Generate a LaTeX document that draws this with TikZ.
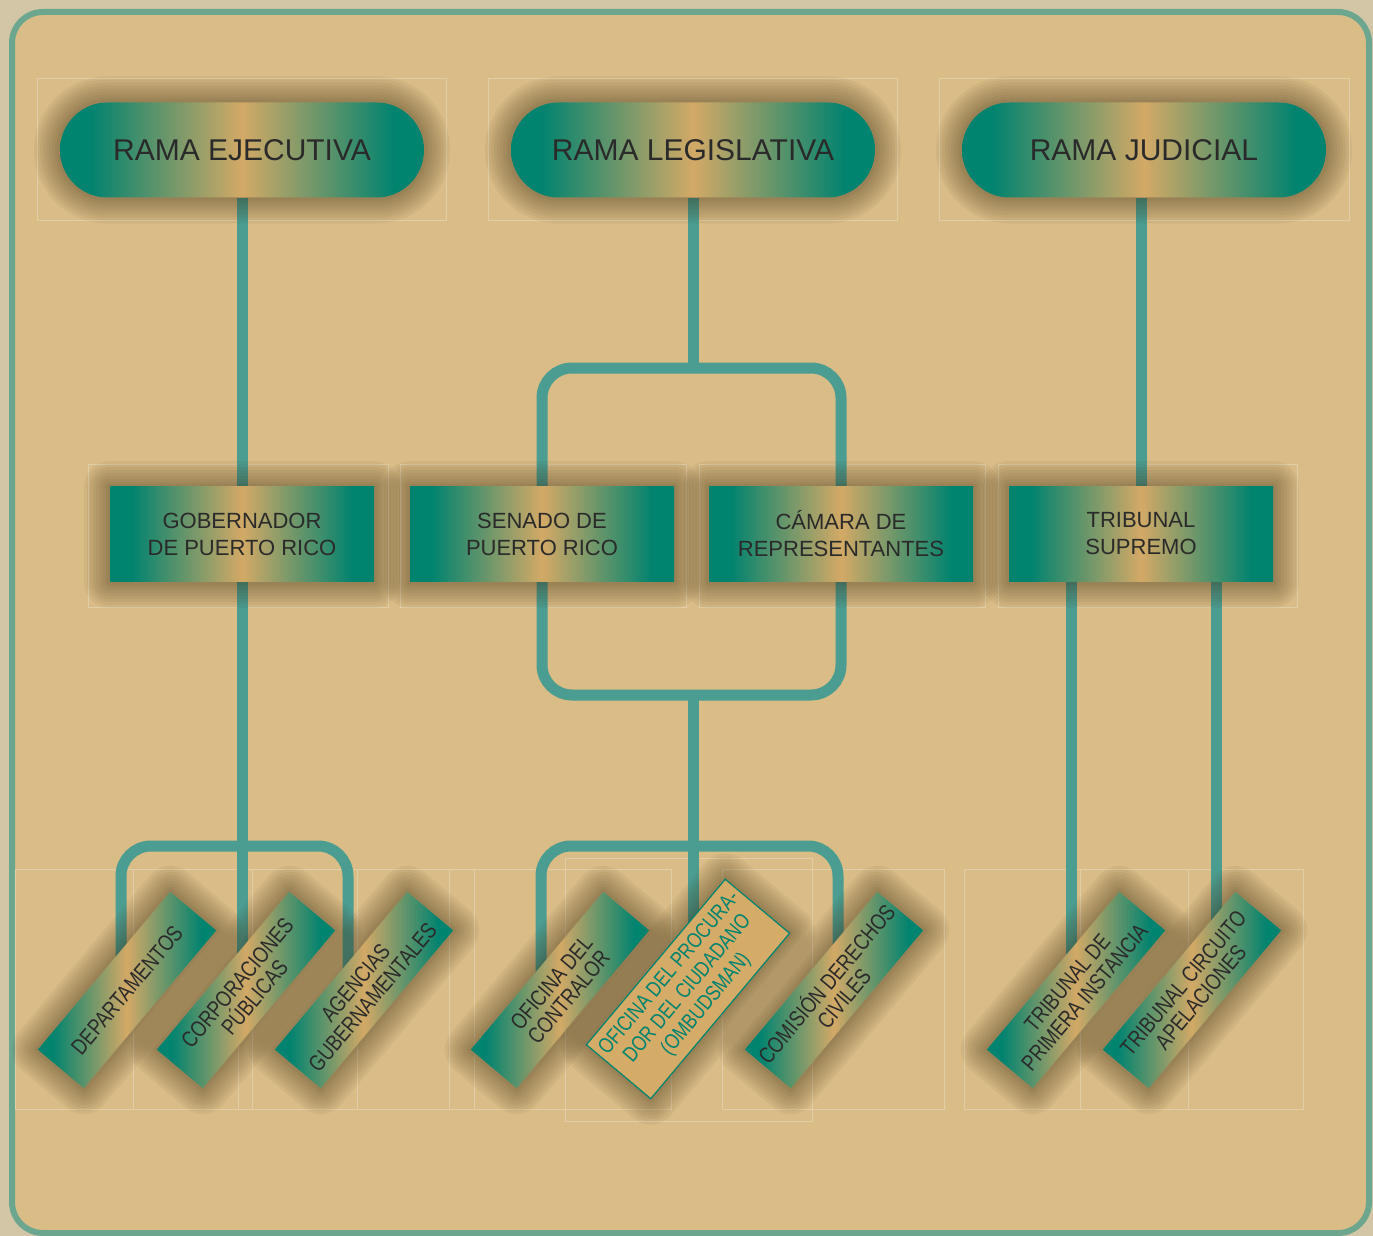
\documentclass[tikz,border=0pt]{standalone}
\usepackage{fontspec}
\setmainfont{Liberation Sans}
\newfontfamily\condfont[FakeStretch=0.8]{Liberation Sans}
\definecolor{bgout}{HTML}{D2C6A6}
\definecolor{bgin}{HTML}{D9BC86}
\definecolor{frameclr}{HTML}{6CA68F}
\definecolor{tealA}{HTML}{00836F}
\definecolor{tanA}{HTML}{D3A966}
\definecolor{tanP}{HTML}{D4AB67}
\definecolor{lineclr}{HTML}{4B9D91}
\definecolor{faint}{HTML}{E2CEA6}
\definecolor{txt}{HTML}{2A2A2A}
\definecolor{shd}{HTML}{3A2A10}
\pgfdeclarehorizontalshading{tealtan}{100bp}{color(0bp)=(tealA); color(25bp)=(tealA); color(29bp)=(tealA); color(50bp)=(tanA); color(71bp)=(tealA); color(75bp)=(tealA); color(100bp)=(tealA)}
\pgfdeclarelayer{back}
\pgfdeclarelayer{mid}
\pgfsetlayers{back,mid,main}
\tikzset{
  glow/.style={preaction={draw=shd, draw opacity=0.05, line width=#1, line join=round, fill opacity=0}},
  shad/.style={glow=26pt, glow=23pt, glow=20pt, glow=17pt, glow=14pt, glow=11pt, glow=8pt, glow=5pt, glow=3pt},
  pill/.style={shad, rectangle, rounded corners=23.7pt, minimum width=182pt, minimum height=47.5pt, shading=tealtan, text=txt, font=\fontsize{15}{18}\selectfont},
  midbox/.style={shad, rectangle, minimum width=132pt, minimum height=47.5pt, shading=tealtan, text=txt, align=center, font=\fontsize{11}{13.5}\selectfont},
  rotbox/.style={shad, rectangle, rotate=50, minimum width=103pt, minimum height=30pt, inner sep=0pt, shading=tealtan, text=txt, align=center, font=\condfont\fontsize{11.3}{11.3}\selectfont},
  probox/.style={shad, rectangle, rotate=50, minimum width=108pt, minimum height=42pt, inner sep=0pt, fill=tanP, draw=tealA, line width=0.6pt, text=tealA, align=center, font=\condfont\fontsize{10.8}{12}\selectfont},
  conn/.style={draw=lineclr, line width=5.5pt},
  rc/.style={rounded corners=15pt},
  faintbox/.style={draw=faint, line width=0.5pt}
}
\begin{document}
\begin{tikzpicture}[x=0.5pt, y=-0.5pt]
\useasboundingbox (0,0) rectangle (1373,1236);
\begin{pgfonlayer}{back}
  \fill[bgout] (0,0) rectangle (1373,1236);
  \draw[fill=bgin, draw=frameclr, line width=3pt, rounded corners=15.5pt] (12,12) rectangle (1369,1233);
  % faint frames
  \draw[faintbox] (37,79) rectangle (446,221);
  \draw[faintbox] (488,79) rectangle (897,221);
  \draw[faintbox] (939,79) rectangle (1349,221);
  \draw[faintbox] (88,464) rectangle (388,607);
  \draw[faintbox] (400,464) rectangle (686,607);
  \draw[faintbox] (699,464) rectangle (985,607);
  \draw[faintbox] (998,464) rectangle (1297,607);
  \draw[faintbox] (15,869) rectangle (238,1109);
  \draw[faintbox] (133,869) rectangle (357,1109);
  \draw[faintbox] (252,869) rectangle (474,1109);
  \draw[faintbox] (449,869) rectangle (671,1109);
  \draw[faintbox] (565,858) rectangle (812,1121);
  \draw[faintbox] (722,869) rectangle (944,1109);
  \draw[faintbox] (964,869) rectangle (1188,1109);
  \draw[faintbox] (1080,869) rectangle (1303,1109);
\end{pgfonlayer}

% top
\node[pill] (ej) at (242,150) {RAMA EJECUTIVA};
\node[pill] (le) at (693,150) {RAMA LEGISLATIVA};
\node[pill] (ju) at (1144,150) {RAMA JUDICIAL};
% middle
\node[midbox] (gob) at (242,534) {GOBERNADOR\\DE PUERTO RICO};
\node[midbox] (sen) at (542,534) {SENADO DE\\PUERTO RICO};
\node[midbox] (cam) at (841,534) {CÁMARA DE\\REPRESENTANTES};
\node[midbox] (sup) at (1141,534) {TRIBUNAL\\SUPREMO};
% bottom
\node[rotbox] (dep) at (127,990) {DEPARTAMENTOS};
\node[rotbox] (cor) at (246,990) {CORPORACIONES\\PÚBLICAS};
\node[rotbox] (age) at (364,990) {AGENCIAS\\GUBERNAMENTALES};
\node[rotbox] (con) at (560,990) {OFICINA DEL\\CONTRALOR};
\node[probox] (pro) at (688,989) {OFICINA DEL PROCURA-\\DOR DEL CIUDADANO\\(OMBUDSMAN)};
\node[rotbox] (com) at (834,990) {COMISIÓN DERECHOS\\CIVILES};
\node[rotbox] (tpi) at (1076,990) {TRIBUNAL DE\\PRIMERA INSTANCIA};
\node[rotbox] (tca) at (1192,990) {TRIBUNAL CIRCUITO\\APELACIONES};

\coordinate (ebT) at (240,846);
\coordinate (ebL) at (121,975);
\coordinate (ebR) at (348,975);
\coordinate (lt) at (693,368);
\coordinate (lb) at (693,695);
\coordinate (lb2) at (693,846);
\coordinate (lbL) at (541,980);
\coordinate (lbR) at (838,985);
\coordinate (jL) at (1071,990);
\coordinate (jR) at (1216,990);

\begin{pgfonlayer}{mid}
  % executive
  \draw[conn] (ej.south) -- (gob.north);
  \draw[conn] (gob.south) -- (gob.south |- cor.center);
  \draw[conn, rc] (ebL) |- (ebT) -| (ebR);
  % legislative
  \draw[conn] (le.south) -- (lt);
  \draw[conn, rc] (sen.north) |- (lt) -| (cam.north);
  \draw[conn, rc] (sen.south) |- (lb) -| (cam.south);
  \draw[conn] (lb) -- (lb |- pro.center);
  \draw[conn, rc] (lbL) |- (lb2) -| (lbR);
  % judicial
  \draw[conn] (ju.south -| sup.north) -- (sup.north);
  \draw[conn] (sup.south -| jL) -- (jL);
  \draw[conn] (sup.south -| jR) -- (jR);
\end{pgfonlayer}
\end{tikzpicture}
\end{document}
